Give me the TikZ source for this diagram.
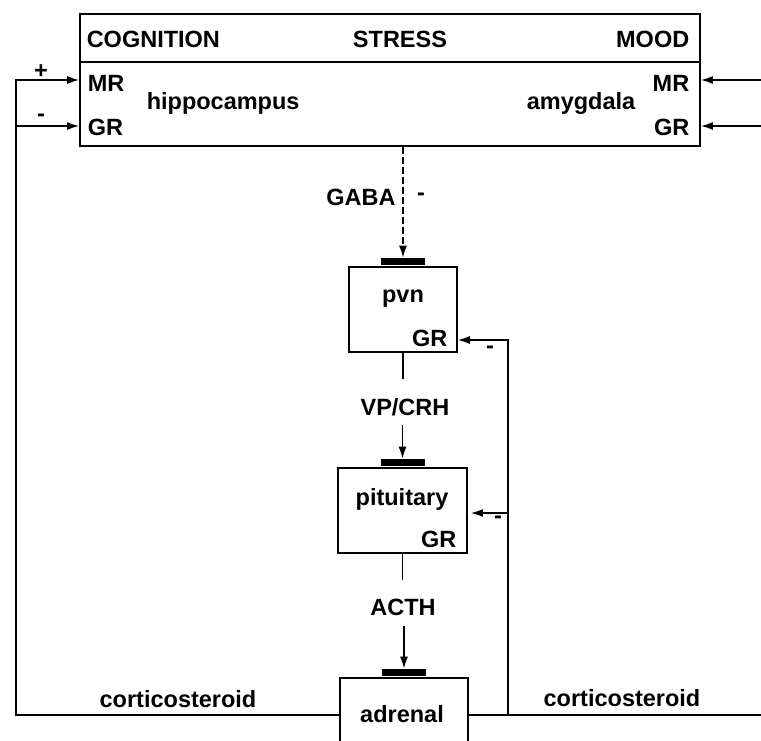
\documentclass[tikz,border=0pt]{standalone}
\usepackage{fontspec}
\setmainfont{Liberation Sans}
\usetikzlibrary{arrows.meta, positioning}

\begin{document}
\begin{tikzpicture}[x=1pt, y=-1pt, line width=1.5pt, >={Latex[length=12pt,width=8pt]},
  every node/.style={font=\fontsize{23.5}{28}\selectfont\bfseries, inner sep=0pt},
  organ/.style={draw, line width=1.8pt, minimum width=#1},
  bar/.style={fill=black, minimum width=44pt, minimum height=7pt}]

\clip (0,0) rectangle (761,740);

% boxes
\node[organ=620pt, minimum height=132pt] (brain) at (390, 80) {};
\node[organ=108pt, minimum height=85pt] (pvn) at (403, 309.5) {};
\node[organ=129pt, minimum height=85pt] (pituitary) at (402.5, 510.5) {};
\node[organ=128pt, minimum height=74pt] (adrenal) at (404, 715) {};

\node[bar, above=0pt of pvn] (pvnbar) {};
\node[bar, above=0pt of pituitary] (pitbar) {};
\node[bar, above=0pt of adrenal] (adrbar) {};

% texts
\node[anchor=base west] (cognition) at (86, 47) {COGNITION};
\node[anchor=base] (stress) at (400, 47) {STRESS};
\node[anchor=base east] (mood) at (690, 47) {MOOD};
\node[anchor=base west] (mrL) at (87, 91) {MR};
\node[anchor=base west] (grL) at (87, 135) {GR};
\node[anchor=base west] (hippo) at (146, 109) {hippocampus};
\node[anchor=base east] (amyg) at (636, 109) {amygdala};
\node[anchor=base east] (mrR) at (690, 91) {MR};
\node[anchor=base east] (grR) at (690, 135) {GR};
\node (plusL) at (41, 72) {+};
\node (minusL) at (41, 118) {-};

\node[anchor=base] (gaba) at (361, 205) {GABA};
\node (minusgaba) at (421, 197) {-};
\node[anchor=base] (pvntxt) at (403, 302) {pvn};
\node[anchor=base east] (pvngr) at (448, 346) {GR};
\node (minuspvn) at (490, 350) {-};

\node[anchor=base] (vpcrh) at (405, 415) {VP/CRH};
\node[anchor=base] (pittxt) at (402, 505) {pituitary};
\node[anchor=base east] (pitgr) at (457, 547) {GR};
\node (minuspit) at (498, 520) {-};

\node[anchor=base] (acth) at (403, 615) {ACTH};
\node[anchor=base] (adrtxt) at (402, 722) {adrenal};
\node[anchor=base] (corticoL) at (178, 707) {corticosteroid};
\node[anchor=base] (corticoR) at (622, 706) {corticosteroid};

% coordinates
\coordinate (lbus) at (16, 80);
\coordinate (rbus) at (508, 715);
\coordinate (rend) at (761, 715);
\coordinate (in1) at (761, 80);
\coordinate (in2) at (761, 126);

\draw (brain.west |- 0, 62) -- (brain.east |- 0, 62);

% arrows
\draw [->, dash pattern=on 7pt off 3pt] (brain.south -| pvnbar) -- (pvnbar.north);
\draw [shorten >=18pt] (pvn.south -| pvnbar) -- (pvnbar |- vpcrh.north);
\draw [->, shorten <=9pt] (pitbar |- vpcrh.south) -- (pitbar.north);
\draw [shorten >=18pt] (pituitary.south -| pitbar) -- (pitbar |- acth.north);
\draw [->, shorten <=10pt] (adrbar |- acth.south) -- (adrbar.north);

\draw [->] (adrenal.west) -| (lbus) -- (lbus -| brain.west);
\draw [->] (lbus |- 0, 126) -- (brain.west |- 0, 126);
\draw (adrenal.east) -- (rend);
\draw [->] (rbus) |- (pvn.east |- 0, 340);
\draw [->] (rbus |- 0, 513) -- ([xshift=3pt]pituitary.east |- 0, 513);
\draw [->] (in1) -- (brain.east |- in1);
\draw [->] (in2) -- (brain.east |- in2);

\end{tikzpicture}
\end{document}
